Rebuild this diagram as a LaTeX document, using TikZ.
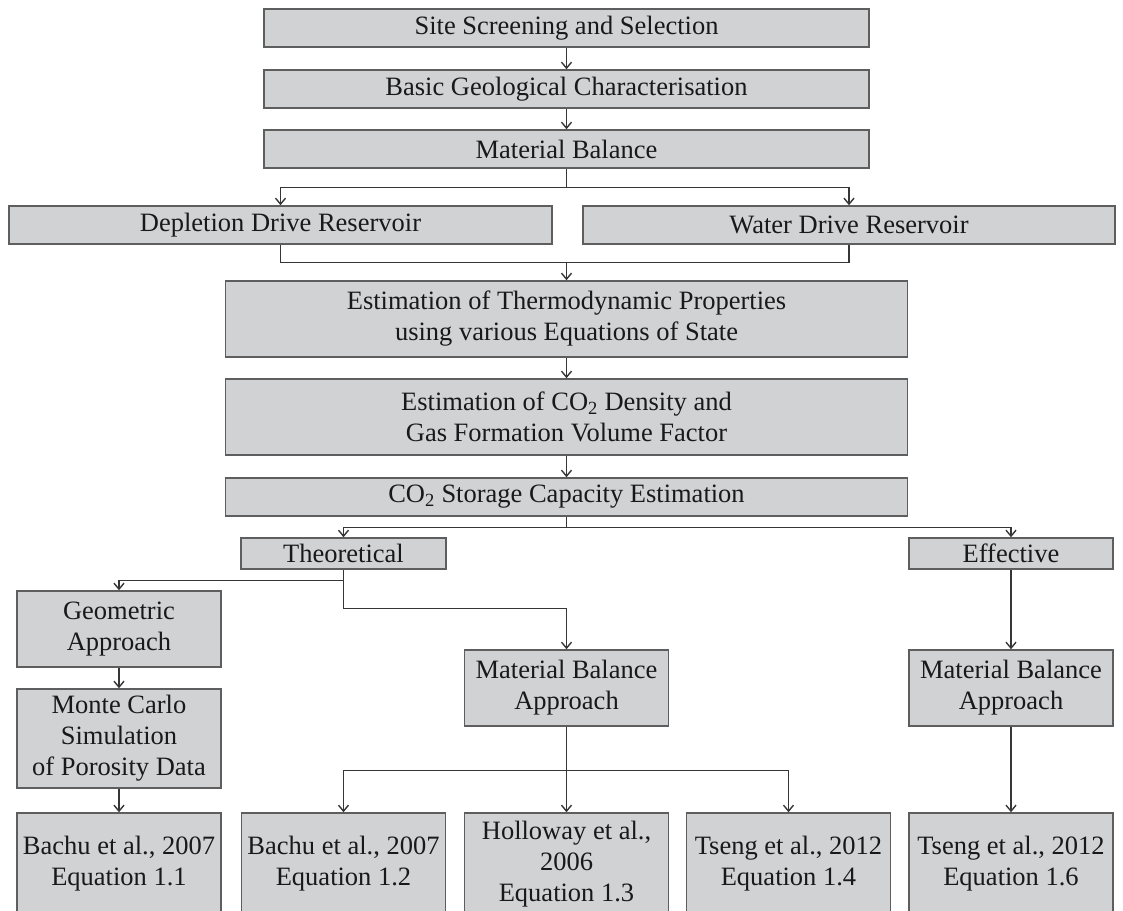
\documentclass[tikz,border=0pt]{standalone}
\usepackage{fontspec}
\setmainfont{Liberation Serif}
\usetikzlibrary{arrows.meta}

\definecolor{boxfill}{HTML}{D1D2D4}
\definecolor{boxedge}{HTML}{5E5E5E}
\definecolor{wire}{HTML}{363636}

\begin{document}
\begin{tikzpicture}[
  x=1pt, y=-1pt,
  >={Straight Barb[length=6pt,width=10pt]},
  flow box/.style   = {draw=boxedge, fill=boxfill, line width=1.5pt,
                       inner sep=0pt, align=center, text=black!90,
                       font=\fontsize{26.5}{31}\selectfont},
  link line/.style  = {draw=wire, line width=1.4pt},
  link arrow/.style = {link line, ->},
]

% ── Frame ──────────────────────────────────────────────────────────────────
% Picture is laid out in pixels of the 1123 x 910 page, y running down.
\useasboundingbox (0,0) rectangle (1123,910);
\clip (0,0) rectangle (1123,910);

% ── Columns ────────────────────────────────────────────────────────────────
\def\xMain{566.5}   % main trunk
\def\xLeft{119}     % geometric branch
\def\xTheo{343.5}   % theoretical
\def\xEff{1011}     % effective

% ── Main trunk ─────────────────────────────────────────────────────────────
\node[flow box, minimum width=605pt, minimum height=38pt] (site)
  at (\xMain, 28) {Site Screening and Selection};
\node[flow box, minimum width=605pt, minimum height=38pt] (basic)
  at (\xMain, 89) {Basic Geological Characterisation};
\node[flow box, minimum width=605pt, minimum height=38pt] (matbal)
  at (\xMain, 149) {Material Balance};

% Reservoir types
\node[flow box, minimum width=543pt, minimum height=38pt] (depl)
  at (280.5, 225) {Depletion Drive Reservoir};
\node[flow box, minimum width=532pt, minimum height=38pt] (water)
  at (849, 225) {Water Drive Reservoir};

\node[flow box, minimum width=682pt, minimum height=76pt] (thermo)
  at (\xMain, 319) {Estimation of Thermodynamic Properties\\using various Equations of State};
\node[flow box, minimum width=682pt, minimum height=76pt] (dens)
  at (\xMain, 417) {Estimation of CO\textsubscript{2} Density and\\Gas Formation Volume Factor};
\node[flow box, minimum width=682pt, minimum height=38pt] (storage)
  at (\xMain, 497) {CO\textsubscript{2} Storage Capacity Estimation};

% ── Capacity kinds ─────────────────────────────────────────────────────────
\node[flow box, minimum width=205pt, minimum height=31pt] (theo)
  at (\xTheo, 553.5) {Theoretical};
\node[flow box, minimum width=204pt, minimum height=31pt] (eff)
  at (\xEff, 553.5) {Effective};

% ── Approaches ─────────────────────────────────────────────────────────────
\node[flow box, minimum width=204pt, minimum height=76pt] (geom)
  at (\xLeft, 629) {Geometric\\Approach};
\node[flow box, minimum width=204pt, minimum height=99pt] (monte)
  at (\xLeft, 738.5) {Monte Carlo\\Simulation\\of Porosity Data};
\node[flow box, minimum width=204pt, minimum height=76pt] (mbtheo)
  at (\xMain, 688) {Material Balance\\Approach};
\node[flow box, minimum width=204pt, minimum height=76pt] (mbeff)
  at (\xEff, 688) {Material Balance\\Approach};

% ── Equations (bottom row, runs off the page) ──────────────────────────────
\node[flow box, minimum width=204pt, minimum height=102pt] (bachuA)
  at (\xLeft, 864) {Bachu et al., 2007\\Equation 1.1};
\node[flow box, minimum width=204pt, minimum height=102pt] (bachuB)
  at (\xTheo, 864) {Bachu et al., 2007\\Equation 1.2};
\node[flow box, minimum width=204pt, minimum height=102pt] (hollo)
  at (\xMain, 864) {Holloway et al.,\\2006\\Equation 1.3};
\node[flow box, minimum width=204pt, minimum height=102pt] (tsengA)
  at (788.5, 864) {Tseng et al., 2012\\Equation 1.4};
\node[flow box, minimum width=204pt, minimum height=102pt] (tsengB)
  at (\xEff, 864) {Tseng et al., 2012\\Equation 1.6};

% ── Connectors ─────────────────────────────────────────────────────────────
\draw[link arrow] (site) -- (basic);
\draw[link arrow] (basic) -- (matbal);

% split into reservoir types, then merge again
\draw[link arrow] (matbal.south) -- ++(0,19) -| (depl.north);
\draw[link arrow] (matbal.south) -- ++(0,19) -| (water.north);
\draw[link line]  (depl.south) -- ++(0,18) -| (water.south);
\coordinate (merge) at (\xMain, 262);
\draw[link arrow] (merge) -- (thermo.north);

\draw[link arrow] (thermo) -- (dens);
\draw[link arrow] (dens) -- (storage);

\draw[link arrow] (storage.south) -- ++(0,11) -| (theo.north);
\draw[link arrow] (storage.south) -- ++(0,11) -| (eff.north);

% theoretical branch
\draw[link arrow] (theo.south) -- ++(0,11) -| (geom.north);
\draw[link arrow] (theo.south) -- ++(0,39) -| (mbtheo.north);
\draw[link arrow] (geom) -- (monte);
\draw[link arrow] (monte) -- (bachuA);

\draw[link arrow] (mbtheo.south) -- ++(0,44) -| (bachuB.north);
\draw[link arrow] (mbtheo.south) -- ++(0,44) -| (hollo.north);
\draw[link arrow] (mbtheo.south) -- ++(0,44) -| (tsengA.north);

% effective branch
\draw[link arrow] (eff) -- (mbeff);
\draw[link arrow] (mbeff) -- (tsengB);

\end{tikzpicture}
\end{document}
